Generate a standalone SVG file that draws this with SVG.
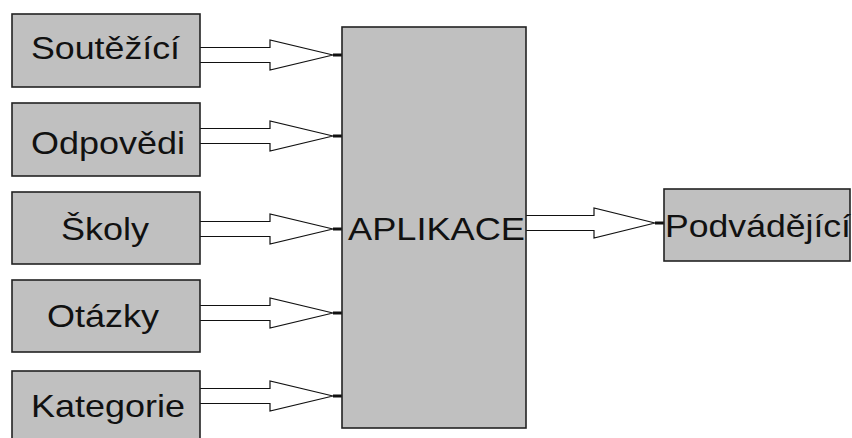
<svg xmlns="http://www.w3.org/2000/svg" width="852" height="438" viewBox="0 0 852 438">
<style>
.box{fill:#c0c0c0;stroke:#222;stroke-width:1.6}
.lbl{font-family:"Liberation Sans",Arial,sans-serif;font-size:32px;fill:#111}
.arr{fill:#fff;stroke:#111;stroke-width:1.2;stroke-linejoin:miter}
.stub{stroke:#111;stroke-width:3}
</style>
<rect width="852" height="438" fill="#fff"/>
<g id="connectors">
<path class="arr" d="M200,47.5 H270 V40 L333,55 L270,70 V62.5 H200"/>
<line class="stub" x1="333" y1="55" x2="342" y2="55"/>
<path class="arr" d="M200,128.5 H270 V121 L333,136 L270,151 V143.5 H200"/>
<line class="stub" x1="333" y1="136" x2="342" y2="136"/>
<path class="arr" d="M200,221.5 H270 V214 L333,229 L270,244 V236.5 H200"/>
<line class="stub" x1="333" y1="229" x2="342" y2="229"/>
<path class="arr" d="M200,305.5 H270 V298 L333,313 L270,328 V320.5 H200"/>
<line class="stub" x1="333" y1="313" x2="342" y2="313"/>
<path class="arr" d="M200,388.5 H270 V381 L333,396 L270,411 V403.5 H200"/>
<line class="stub" x1="333" y1="396" x2="342" y2="396"/>
<path class="arr" d="M526,215.5 H594 V208 L655,223 L594,238 V230.5 H526"/>
<line class="stub" x1="655" y1="223" x2="664" y2="223"/>
</g>
<g id="soutezici">
<rect class="box" x="12" y="14" width="188" height="73"/>
<text class="lbl" x="31" y="59" textLength="149" lengthAdjust="spacingAndGlyphs">Soutěžící</text>
</g>
<g id="odpovedi">
<rect class="box" x="12" y="103" width="188" height="73"/>
<text class="lbl" x="31" y="154" textLength="154" lengthAdjust="spacingAndGlyphs">Odpovědi</text>
</g>
<g id="skoly">
<rect class="box" x="12" y="192" width="188" height="72"/>
<text class="lbl" x="61" y="240" textLength="88" lengthAdjust="spacingAndGlyphs">Školy</text>
</g>
<g id="otazky">
<rect class="box" x="12" y="280" width="188" height="72"/>
<text class="lbl" x="47" y="327" textLength="112" lengthAdjust="spacingAndGlyphs">Otázky</text>
</g>
<g id="kategorie">
<rect class="box" x="12" y="371" width="188" height="73"/>
<text class="lbl" x="31" y="417" textLength="154" lengthAdjust="spacingAndGlyphs">Kategorie</text>
</g>
<g id="aplikace">
<rect class="box" x="342" y="27" width="184" height="401"/>
<text class="lbl" x="348" y="240" textLength="177" lengthAdjust="spacingAndGlyphs">APLIKACE</text>
</g>
<g id="podvadejici">
<rect class="box" x="664" y="189" width="186" height="72"/>
<text class="lbl" x="665" y="237" textLength="186" lengthAdjust="spacingAndGlyphs">Podvádějící</text>
</g>
</svg>
